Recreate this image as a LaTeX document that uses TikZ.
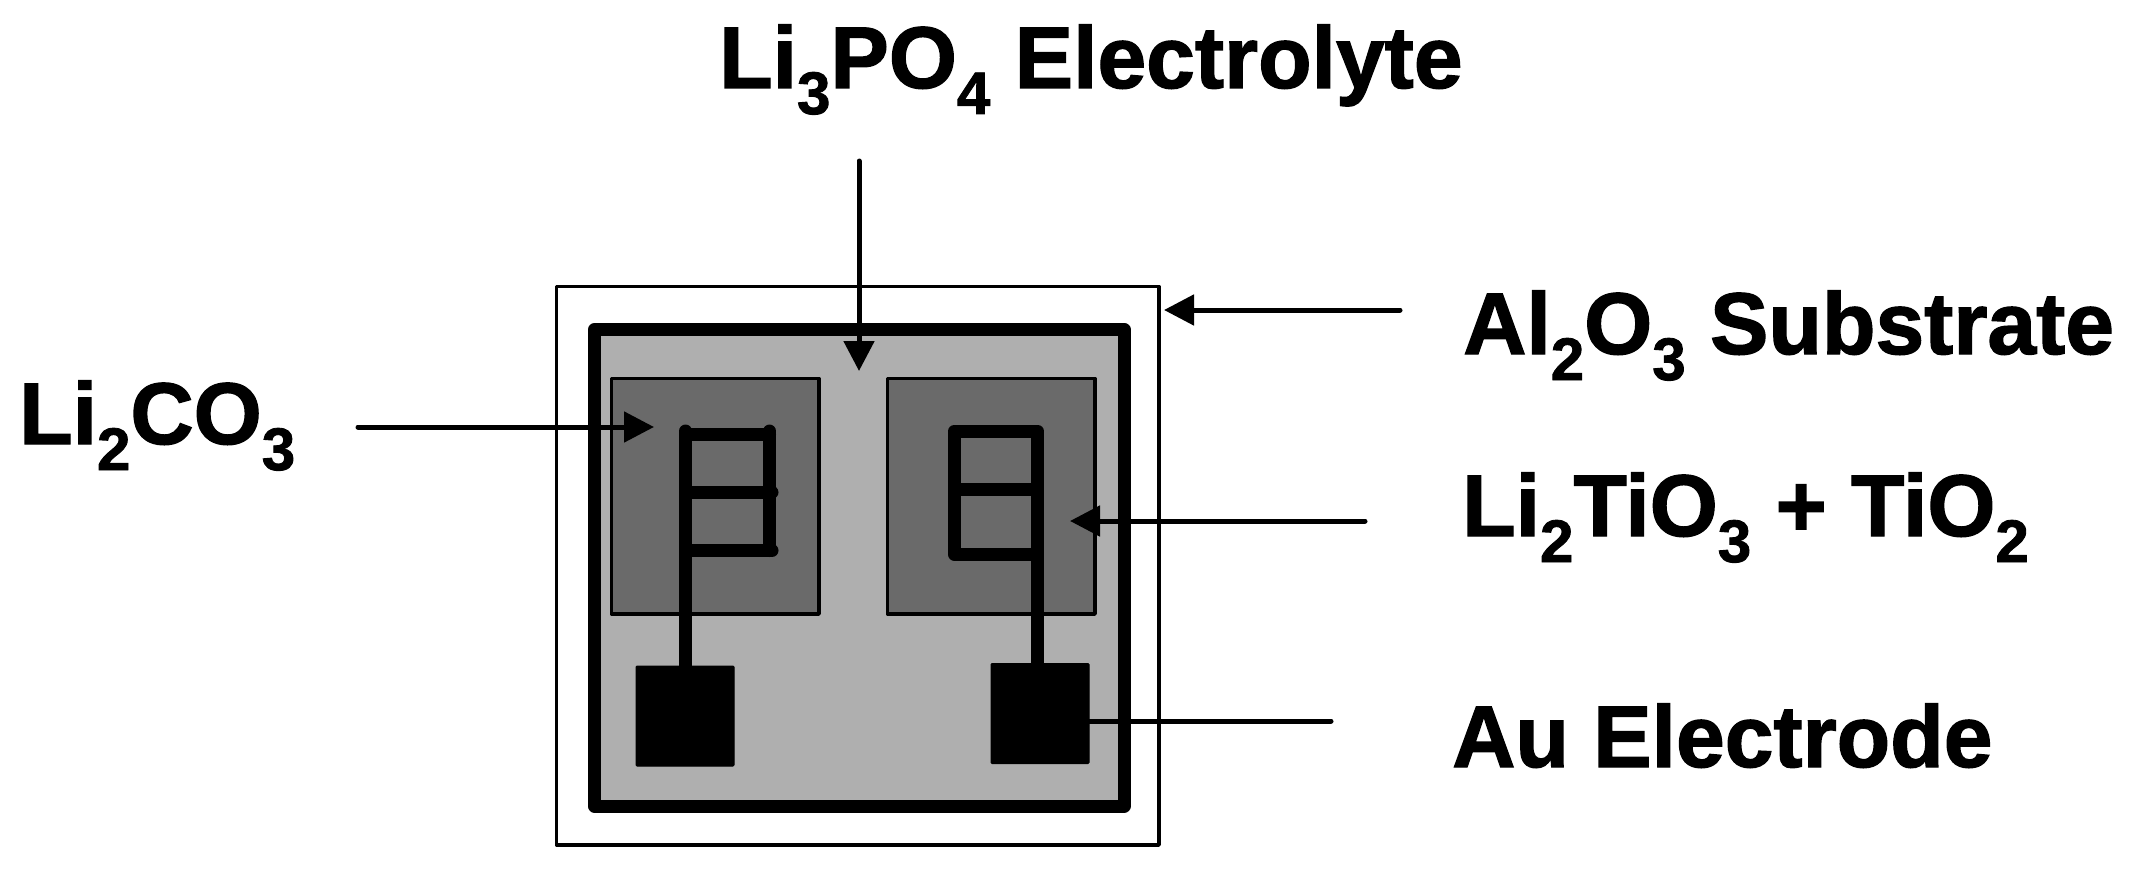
\documentclass[tikz,border=0pt]{standalone}
\usepackage{fontspec}
\setmainfont{Liberation Sans}[BoldFeatures={FakeBold=1.5}]
\usetikzlibrary{arrows.meta}
\newcommand{\subs}[1]{\raisebox{-26pt}{\fontsize{60}{60}\selectfont #1}}
\tikzset{
  x=1pt,y=-1pt,
  lbl/.style={anchor=base west,inner sep=0pt,font=\fontsize{87.6}{88}\selectfont\bfseries},
  lead/.style={draw=black,line width=5pt,line cap=round},
  arr/.style={lead,-{Triangle[length=30pt,width=30pt,sep=0pt]}},
  patch/.style={draw=black,fill=patchgrey,line width=3.5pt,line join=round},
  wire/.style={draw=black,line width=13pt,line join=round,line cap=round},
  padbox/.style={fill=black,draw=black,line width=1pt,inner sep=0pt,rounded corners=1pt},
}
\definecolor{basegrey}{HTML}{AFAFAF}
\definecolor{patchgrey}{HTML}{6A6A6A}
\begin{document}
\begin{tikzpicture}
\useasboundingbox (0,0) rectangle (2140,872);
% substrate
\draw[black,line width=3.5pt,line join=round] (556.5,286.5) rectangle (1159,845);
% electrolyte
\draw[black,fill=basegrey,line width=13pt,line join=round] (594.5,329.5) rectangle (1124,806);
% patches
\draw[patch] (611.5,378.5) rectangle (819,614);
\draw[patch] (887.5,378.5) rectangle (1095,614);
% pads
\node[padbox,minimum width=98pt,minimum height=100pt] (padL) at (685,716) {};
\node[padbox,minimum width=98pt,minimum height=100pt] (padR) at (1040,713.5) {};
% left comb
\draw[wire,line cap=butt] (padL.north -| 685.5,0) -- (685.5,432);
\fill (685.5,431) circle (6.5pt);
\draw[wire] (685.5,434) -- (769.5,434);
\draw[wire] (769.5,431) -- (769.5,550.5);
\draw[wire] (685.5,492) -- (772,492);
\draw[wire] (685.5,550.5) -- (772,550.5);
% right comb
\draw[wire,line cap=butt] (padR.north -| 1037.5,0) -- (1037.5,431) -- (954.5,431) -- (954.5,554.5) -- (1037.5,554.5);
\draw[wire,line cap=butt] (954.5,489.5) -- (1037.5,489.5);
% labels
\node[lbl] (electrolyte) at (719,88) {Li\subs{3}PO\subs{4} Electrolyte};
\node[lbl] (carbonate) at (19,444) {Li\subs{2}CO\subs{3}};
\node[lbl] (substrate) at (1463,354) {Al\subs{2}O\subs{3} Substrate};
\node[lbl] (titanate) at (1462,536) {Li\subs{2}TiO\subs{3} + TiO\subs{2}};
\node[lbl] (electrode) at (1452,767) {Au Electrode};
% leaders
\coordinate (eA) at (859,161); \coordinate (eB) at (859,371);
\coordinate (cA) at (358,427); \coordinate (cB) at (654,427);
\coordinate (sA) at (1400,310); \coordinate (sB) at (1164,310);
\coordinate (tA) at (1365,521); \coordinate (tB) at (1070,521);
\coordinate (aA) at (1331,721);
\draw[arr] (eA) -- (eB);
\draw[arr] (cA) -- (cB);
\draw[arr] (sA) -- (sB);
\draw[arr] (tA) -- (tB);
\draw[lead] (aA) -- (padR.east |- aA);
\end{tikzpicture}
\end{document}
